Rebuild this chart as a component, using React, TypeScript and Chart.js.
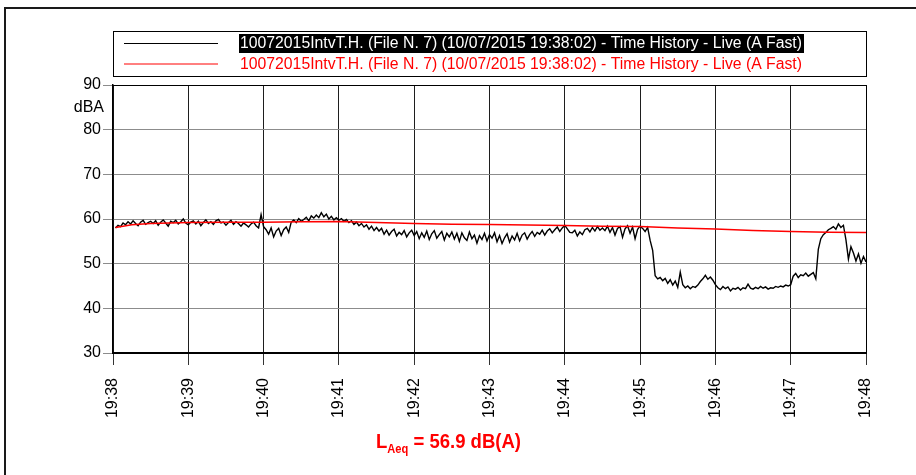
import React, { useEffect, useRef } from "react";
import { Chart, registerables } from "chart.js";

Chart.register(...registerables);

const FONT = "'Liberation Sans', Arial, Helvetica, sans-serif";

// ---- data ----
const TIME_LABELS = ["19:38", "19:39", "19:40", "19:41", "19:42", "19:43", "19:44", "19:45", "19:46", "19:47", "19:48"];
const Y_MIN = 30;
const Y_MAX = 90;
const Y_STEP = 10;
const Y_UNIT = "dBA";
const SERIES_NAME = "10072015IntvT.H. (File N. 7) (10/07/2015 19:38:02) - Time History - Live (A Fast)";
const LAEQ_VALUE = "56.9";

// live A-fast level, one reading every 2 s starting 19:38:02
const LIVE_START_S = 2;
const LIVE_STEP_S = 2;
const LIVE_LEVELS = [
  58.0, 58.6, 58.3, 59.1, 58.7, 59.4, 58.9, 59.6, 59.0, 58.5, 59.3, 59.7, 58.8, 59.2, 59.5,
  59.0, 59.6, 58.6, 59.3, 59.8, 59.1, 58.4, 59.5, 59.2, 59.7, 58.9, 59.4, 60.0, 59.1, 58.7,
  59.3, 59.6, 58.9, 59.5, 58.5, 59.2, 59.8, 59.0, 59.4, 58.8, 59.6, 59.9, 59.1, 59.3, 58.6,
  59.2, 59.7, 58.8, 59.4, 59.0, 58.4, 59.1, 58.7, 58.2, 58.9, 59.3, 58.5, 58.0, 61.0, 58.3,
  57.6, 56.6, 58.0, 56.0, 57.3, 57.9, 56.3, 57.6, 58.2, 57.0, 59.3, 59.8, 59.2, 60.1, 59.5,
  59.9, 60.4, 59.6, 60.7, 60.2, 60.9, 60.3, 61.4, 60.5, 61.1, 60.0, 60.6, 59.8, 60.3, 59.7,
  60.1, 59.5, 59.9, 59.2, 59.6, 58.8, 59.3, 58.5, 59.0, 58.2, 58.7, 57.7, 58.4, 57.4, 58.1,
  57.3, 57.9, 56.6, 57.5, 56.4, 57.2, 57.7, 56.2, 57.0, 56.5, 57.4, 56.0, 56.9, 57.5, 56.3,
  57.2, 55.6, 56.9, 55.9, 57.3, 55.4, 56.7, 57.4, 55.7, 56.5, 57.2, 55.3, 56.8, 56.0, 57.1,
  55.5, 56.8, 55.0, 56.9, 55.8, 55.2, 57.1, 55.6, 56.4, 54.6, 56.3, 55.4, 56.8, 55.1, 56.5,
  55.7, 56.9, 54.9, 56.3, 54.5, 55.8, 56.7, 54.8, 56.2, 55.3, 56.8, 55.1, 56.4, 56.9, 55.5,
  56.5, 57.2, 56.1, 57.0, 56.6, 57.5, 56.4, 57.3, 57.8, 56.9, 57.6, 58.2, 57.2, 58.0, 58.6,
  57.8, 57.0, 56.9, 57.5, 56.2, 57.1, 56.5, 57.6, 57.9, 57.1, 58.1, 57.3, 58.3, 57.5, 58.0,
  57.4, 58.4, 57.0, 58.1, 56.4, 57.9, 58.3, 55.9, 57.8, 58.5, 56.8, 58.2, 55.6, 57.7, 58.4,
  57.9, 57.2, 58.1, 55.2, 53.0, 47.3, 46.6, 46.9, 46.2, 46.7, 45.6, 46.4, 45.2, 46.1, 44.7,
  48.1, 45.3, 44.6, 45.0, 44.4, 44.9, 44.7, 45.2, 46.0, 46.6, 47.4, 46.5, 47.0, 46.3, 45.3,
  44.6, 44.2, 44.9, 44.4, 44.8, 43.9, 44.5, 44.3, 44.7, 44.1, 44.6, 44.4, 45.4, 44.5, 44.3,
  44.7, 44.4, 44.9, 44.5, 44.8, 44.3, 44.6, 44.5, 44.9, 44.7, 45.0, 44.8, 45.2, 45.0, 45.3,
  47.2, 47.8, 46.9, 47.5, 47.3, 47.9, 47.2, 47.6, 48.0, 46.6, 53.2, 55.6, 56.5, 57.0, 57.6,
  57.9, 58.3, 57.7, 58.9, 58.1, 58.6, 55.4, 51.0, 53.8, 52.4, 50.6, 52.2, 50.1, 51.6, 50.4,
];

// running Leq (red)
const LEQ_TIMES_S = [2, 15, 30, 60, 90, 120, 150, 180, 210, 240, 270, 300, 330, 360, 390, 420, 450, 480, 510, 540, 570, 600];
const LEQ_LEVELS = [58.1, 58.7, 59.0, 59.2, 59.3, 59.3, 59.4, 59.45, 59.2, 59.0, 58.85, 58.75, 58.65, 58.55, 58.4, 58.3, 58.0, 57.75, 57.45, 57.2, 57.05, 56.95];

const LIVE_COLOR = "#000000";
const LEQ_COLOR = "#ff0000";

function fillFitted(ctx: CanvasRenderingContext2D, text: string, x: number, y: number, width: number) {
  const w = ctx.measureText(text).width;
  ctx.save();
  ctx.translate(x, y);
  ctx.scale(width / w, 1);
  ctx.fillText(text, 0, 0);
  ctx.restore();
}

const decorPlugin = {
  id: "decor",
  beforeDraw(chart: any) {
    const ctx: CanvasRenderingContext2D = chart.ctx;
    ctx.save();
    ctx.fillStyle = "#ffffff";
    ctx.fillRect(0, 0, chart.width, chart.height);
    ctx.strokeStyle = "#1a1a1a";
    ctx.lineWidth = 2;
    ctx.beginPath();
    ctx.moveTo(5, chart.height);
    ctx.lineTo(5, 8);
    ctx.lineTo(chart.width, 8);
    ctx.stroke();
    ctx.restore();
  },
  afterDraw(chart: any) {
    const ctx: CanvasRenderingContext2D = chart.ctx;
    const area = chart.chartArea;
    const ds = chart.data.datasets;
    ctx.save();

    // plot frame top/right
    ctx.strokeStyle = "#000";
    ctx.lineWidth = 1;
    ctx.beginPath();
    ctx.moveTo(area.left, area.top + 0.5);
    ctx.lineTo(area.right + 0.5, area.top + 0.5);
    ctx.lineTo(area.right + 0.5, area.bottom);
    ctx.stroke();

    // legend box
    ctx.strokeStyle = "#000";
    ctx.lineWidth = 1;
    ctx.strokeRect(area.left + 0.5, 31.5, area.right - area.left, 45);
    const rows = [
      { d: ds[1], y: 43.5, highlight: true },
      { d: ds[0], y: 64, highlight: false },
    ];
    ctx.font = `16px ${FONT}`;
    ctx.textBaseline = "middle";
    ctx.textAlign = "left";
    for (const r of rows) {
      ctx.strokeStyle = r.d.borderColor;
      ctx.lineWidth = 1;
      ctx.beginPath();
      ctx.moveTo(124, r.y);
      ctx.lineTo(218, r.y);
      ctx.stroke();
      if (r.highlight) {
        ctx.fillStyle = "#000";
        ctx.fillRect(239, r.y - 9.5, 565, 19);
        ctx.fillStyle = "#fff";
      } else {
        ctx.fillStyle = r.d.borderColor;
      }
      fillFitted(ctx, r.d.label, 240, r.y + 0.5, 562);
    }

    // unit label
    ctx.fillStyle = "#000";
    ctx.font = `16px ${FONT}`;
    ctx.textAlign = "right";
    ctx.textBaseline = "middle";
    ctx.fillText(Y_UNIT, 104, 108);

    // LAeq annotation
    const big = `bold 20px ${FONT}`;
    const small = `bold 12px ${FONT}`;
    const parts = [
      { t: "L", f: big, dy: 0 },
      { t: "Aeq", f: small, dy: 5 },
      { t: ` = ${LAEQ_VALUE} dB(A)`, f: big, dy: 0 },
    ];
    let total = 0;
    for (const p of parts) {
      ctx.font = p.f;
      total += ctx.measureText(p.t).width;
    }
    ctx.fillStyle = LEQ_COLOR;
    ctx.textAlign = "left";
    ctx.textBaseline = "alphabetic";
    ctx.translate(376, 448);
    ctx.scale(145 / total, 1);
    let x = 0;
    for (const p of parts) {
      ctx.font = p.f;
      ctx.fillText(p.t, x, p.dy);
      x += ctx.measureText(p.t).width;
    }
    ctx.restore();
  },
};

export default function App() {
  const canvasRef = useRef<HTMLCanvasElement | null>(null);

  useEffect(() => {
    const canvas = canvasRef.current;
    if (!canvas) return;
    const liveData = LIVE_LEVELS.map((v, i) => ({ x: LIVE_START_S + i * LIVE_STEP_S, y: v }));
    const leqData = LEQ_LEVELS.map((v, i) => ({ x: LEQ_TIMES_S[i], y: v }));

    const chart = new Chart(canvas, {
      type: "line",
      data: {
        datasets: [
          {
            label: SERIES_NAME,
            data: leqData,
            borderColor: LEQ_COLOR,
            borderWidth: 1.5,
            pointRadius: 0,
            tension: 0,
            order: 0,
          },
          {
            label: SERIES_NAME,
            data: liveData,
            borderColor: LIVE_COLOR,
            borderWidth: 1.4,
            pointRadius: 0,
            tension: 0,
            order: 1,
          },
        ],
      },
      options: {
        responsive: false,
        animation: false,
        layout: { padding: { top: 85, right: 50, left: 0, bottom: 0 } },
        plugins: {
          legend: { display: false },
          tooltip: { enabled: false },
          title: { display: false },
        },
        scales: {
          x: {
            type: "linear",
            min: 0,
            max: 600,
            afterFit: (scale: any) => {
              scale.height = 122;
            },
            ticks: {
              stepSize: 60,
              minRotation: 90,
              maxRotation: 90,
              autoSkip: false,
              padding: 13,
              color: "#000",
              font: { family: FONT, size: 16 },
              callback: (value: any) => TIME_LABELS[Math.round(Number(value) / 60)] ?? "",
            },
            grid: {
              color: "#1e1e1e",
              lineWidth: 1,
              tickLength: 12,
              tickColor: "#333",
            },
            border: { color: "#000", width: 2 },
          },
          y: {
            type: "linear",
            min: Y_MIN,
            max: Y_MAX,
            afterFit: (scale: any) => {
              scale.width = 113;
            },
            ticks: {
              stepSize: Y_STEP,
              padding: 2,
              color: "#000",
              font: { family: FONT, size: 16 },
            },
            grid: {
              color: "#8c8c8c",
              lineWidth: 1,
              tickLength: 10,
              tickColor: "#8c8c8c",
            },
            border: { color: "#000", width: 1.5 },
          },
        },
      },
      plugins: [decorPlugin],
    } as any);

    return () => chart.destroy();
  }, []);

  return (
    <canvas
      ref={canvasRef}
      width={916}
      height={475}
      style={{ position: "absolute", left: 0, top: 0, width: 916, height: 475, display: "block" }}
    />
  );
}
